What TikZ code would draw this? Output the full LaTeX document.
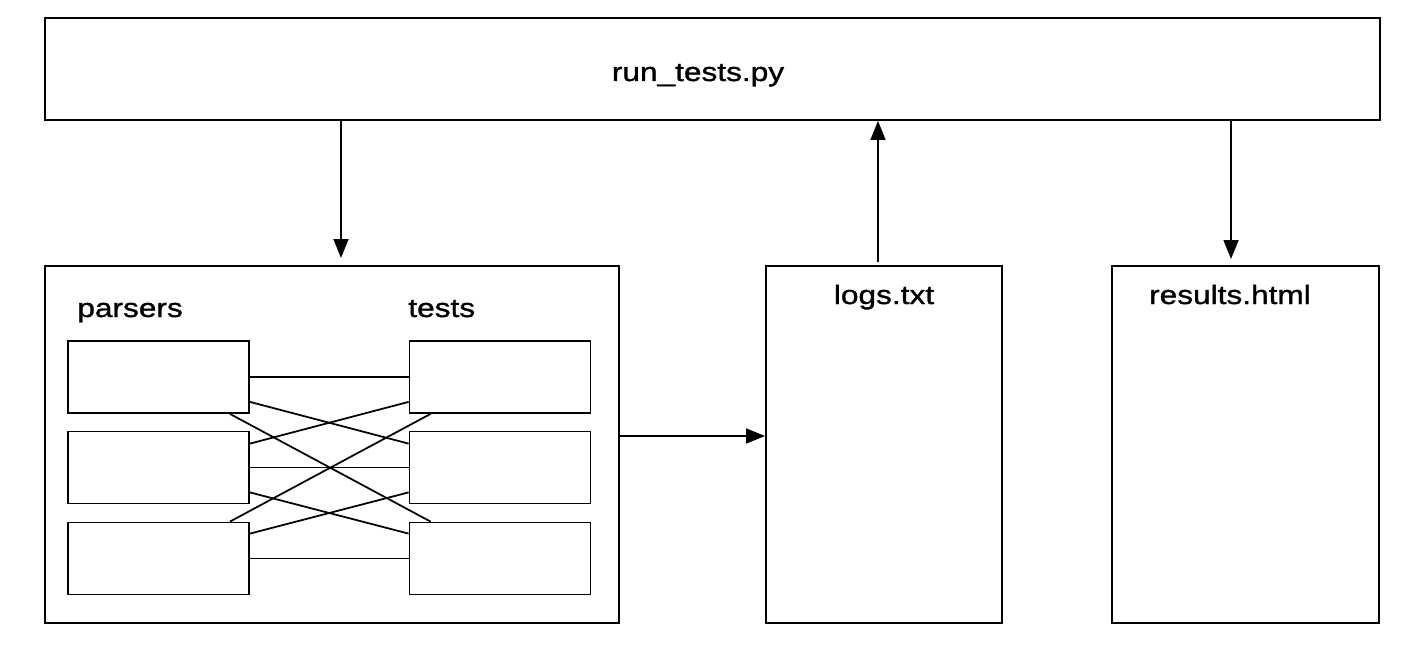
\documentclass[tikz,border=0pt]{standalone}
\usepackage{fontspec}
\setmainfont{Liberation Sans}[FakeStretch=1.2, FakeBold=1.2]
\usetikzlibrary{arrows.meta, positioning}

\begin{document}
\begin{tikzpicture}[
    x=0.02cm, y=-0.02cm,
    font=\fontsize{15pt}{18pt}\selectfont,
    box/.style={rectangle, draw=black, line width=1.1pt, fill=white, inner sep=0pt},
    slot/.style={rectangle, draw=black, line width=1pt, minimum width=3.62cm, minimum height=1.44cm, inner sep=0pt},
    title/.style={inner sep=0pt, anchor=base},
    link/.style={line width=1pt},
    arrow/.style={-{Triangle[length=0.38cm, width=0.3cm]}, line width=0.9pt}
]
    \useasboundingbox (0,0) rectangle (1426,662);

    \node[box, minimum width=26.7cm, minimum height=2.04cm] (runner) at (712.5,69) {};
    \node[box, minimum width=11.48cm, minimum height=7.14cm] (harness) at (332,444.5) {};
    \node[box, minimum width=4.72cm, minimum height=7.14cm] (logs) at (884,444.5) {};
    \node[box, minimum width=5.34cm, minimum height=7.14cm] (results) at (1245.5,444.5) {};

    \node[title] (runnerlbl) at (698,81) {run\_tests.py};
    \node[title] (logslbl) at (logs.center |- 0,304) {logs.txt};
    \node[title] (resultslbl) at (1230,304) {results.html};

    % parsers and tests inside the harness
    \node[title, anchor=base west] (parserslbl) at (77,317) {parsers};
    \node[title, anchor=base west] (testslbl) at (408,317) {tests};

    \node[slot] (p1) at (158.5,377) {};
    \node[slot] (p2) at (158.5,467.5) {};
    \node[slot] (p3) at (158.5,558.5) {};
    \node[slot] (t1) at (500,377) {};
    \node[slot] (t2) at (500,467.5) {};
    \node[slot] (t3) at (500,558.5) {};

    \foreach \i in {1,2,3}
        \draw[link] (p\i.east) -- (t\i.west);
    \draw[link] ([yshift=0.24cm]p1.south east) -- ([yshift=-0.26cm]t2.north west);
    \draw[link] ([yshift=0.24cm]t1.south west) -- ([yshift=-0.26cm]p2.north east);
    \draw[link] ([yshift=0.24cm]p2.south east) -- ([yshift=-0.24cm]t3.north west);
    \draw[link] ([yshift=0.24cm]t2.south west) -- ([yshift=-0.24cm]p3.north east);
    \draw[link] ([xshift=-0.4cm]p1.south east) -- ([xshift=0.44cm]t3.north west);
    \draw[link] ([xshift=0.44cm]t1.south west) -- ([xshift=-0.4cm]p3.north east);

    % flow between the parts
    \coordinate (dn1) at (341,258);
    \coordinate (up1) at (878,262);
    \coordinate (dn2) at (1231,259);
    \draw[arrow] (runner.south -| dn1) -- (dn1);
    \draw[arrow] (up1) -- (up1 |- runner.south);
    \draw[arrow] (runner.south -| dn2) -- (dn2);
    \draw[arrow] ([yshift=0.17cm]harness.east) -- ([yshift=0.17cm]logs.west);
\end{tikzpicture}
\end{document}
